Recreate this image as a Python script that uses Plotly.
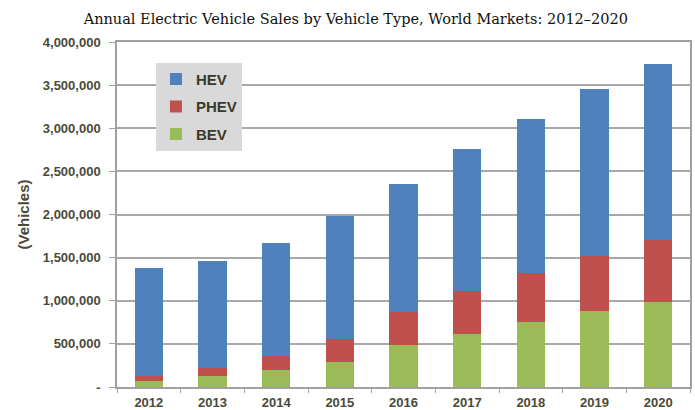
import plotly.graph_objects as go

years = ["2012", "2013", "2014", "2015", "2016", "2017", "2018", "2019", "2020"]
bev = [65000, 125000, 195000, 285000, 487000, 618000, 749000, 883000, 984000]
phev = [60000, 97000, 162000, 272000, 377000, 500000, 570000, 639000, 719000]
hev = [1251000, 1242000, 1316000, 1423000, 1494000, 1640000, 1789000, 1933000, 2047000]

y_tickvals = [0, 500000, 1000000, 1500000, 2000000, 2500000, 3000000, 3500000, 4000000]
y_ticktext = ["-", "500,000", "1,000,000", "1,500,000", "2,000,000", "2,500,000",
              "3,000,000", "3,500,000", "4,000,000"]

tick_col = "#4a4a38"

fig = go.Figure()
fig.add_trace(go.Bar(name="BEV", x=years, y=bev, marker_color="#9bbb59",
                     marker_line_width=0, legendgroup="c", legendrank=3))
fig.add_trace(go.Bar(name="PHEV", x=years, y=phev, marker_color="#c0504d",
                     marker_line_width=0, legendgroup="b", legendrank=2))
fig.add_trace(go.Bar(name="HEV", x=years, y=hev, marker_color="#4f81bd",
                     marker_line_width=0, legendgroup="a", legendrank=1))

fig.update_layout(
    width=695, height=410,
    barmode="stack", bargap=0.56,
    paper_bgcolor="white", plot_bgcolor="white",
    margin=dict(l=117, r=5, t=42, b=23, autoexpand=False),
    title=dict(text="Annual Electric Vehicle Sales by Vehicle Type, World Markets: 2012\u20132020",
               x=0.512, xanchor="center", y=0.955, yanchor="middle",
               font=dict(family="DejaVu Serif", size=14.5, color="#111111")),
    legend=dict(x=0.068, y=0.94, xanchor="left", yanchor="top", traceorder="grouped",
                tracegroupgap=5,
                bgcolor="#d9d9d9", borderwidth=0,
                font=dict(family="Liberation Sans", size=15, color="#3a3a28", weight="bold"),
                itemwidth=30),
    showlegend=True,
)
fig.update_xaxes(
    showline=True, linecolor="#a0a0a0", linewidth=1.5, mirror=True,
    ticks="outside", tickson="boundaries", ticklen=4, tickcolor="#a0a0a0",
    ticklabelstandoff=3,
    tickfont=dict(family="Liberation Sans", size=13, color=tick_col, weight="bold"),
    showgrid=False, automargin=False,
)
fig.update_yaxes(
    range=[0, 4000000], tickvals=y_tickvals, ticktext=y_ticktext,
    showline=True, linecolor="#a0a0a0", linewidth=1.5, mirror=True,
    showgrid=True, gridcolor="#a8a8a8", gridwidth=1.5,
    ticks="outside", ticklen=6, tickcolor="#a0a0a0", ticklabelstandoff=6,
    tickfont=dict(family="Liberation Sans", size=13, color=tick_col, weight="bold"),
    title=dict(text="(Vehicles)", standoff=10,
               font=dict(family="Liberation Sans", size=15, color=tick_col, weight="bold")),
    zeroline=False, automargin=False,
)
fig.write_html("out.html", config={"displayModeBar": False},
               post_script="document.body.style.margin='0';")
